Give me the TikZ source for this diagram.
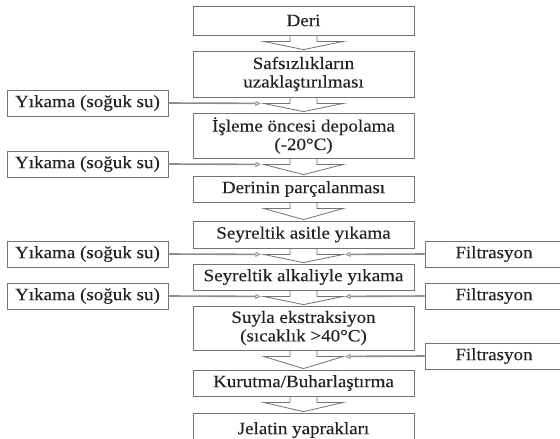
\documentclass[tikz,border=0pt]{standalone}
\usepackage{fontspec}
\setmainfont{Liberation Serif}[FakeStretch=1.1,FakeBold=0.15]
\usetikzlibrary{arrows.meta,calc}
\definecolor{boxline}{HTML}{737373}
\definecolor{txt}{HTML}{222222}
\definecolor{sideline}{HTML}{8C8C8C}
\tikzset{
  mainbox/.style={draw=boxline, line width=0.8pt, minimum width=221pt, inner sep=0pt, align=center, text=txt, font=\fontsize{17.3}{18.5}\selectfont},
  sidebox/.style={draw=boxline, line width=0.8pt, minimum height=26pt, inner sep=0pt, text=txt, font=\fontsize{17.3}{18.5}\selectfont},
  blockarr/.style={draw=boxline, line width=0.8pt, line join=miter},
  sidearr/.style={draw=sideline, line width=1.6pt, -{Triangle[open, length=5pt, width=5pt, line width=0.8pt]}},
}
\newcommand{\blockarrow}[2]{%
  \draw[blockarr] ([xshift=-13.5pt]#1.south) -- ([shift={(-13.5pt,-6pt)}]#1.south)
    -- ([shift={(-40pt,-6pt)}]#1.south) -- ([yshift=1pt]#2.north)
    -- ([shift={(40pt,-6pt)}]#1.south) -- ([shift={(13.5pt,-6pt)}]#1.south)
    -- ([xshift=13.5pt]#1.south);}
\begin{document}
\begin{tikzpicture}[x=1pt,y=1pt]
\useasboundingbox (0,0) rectangle (560,-439);
\fill[white] (0,0) rectangle (560,-439);
\clip (0,0) rectangle (560,-439);
% main column
\node[mainbox, minimum height=29pt] (b1) at (303.5,-20.5) {Deri};
\node[mainbox, minimum height=46pt] (b2) at (303.5,-74) {Safsızlıkların\\uzaklaştırılması};
\node[mainbox, minimum height=45pt] (b3) at (303.5,-135.5) {İşleme öncesi depolama\\(-20°C)};
\node[mainbox, minimum height=26pt] (b4) at (303.5,-189) {Derinin parçalanması};
\node[mainbox, minimum height=27pt] (b5) at (303.5,-234.5) {Seyreltik asitle yıkama};
\node[mainbox, minimum height=26pt] (b6) at (303.5,-277) {Seyreltik alkaliyle yıkama};
\node[mainbox, minimum height=44pt] (b7) at (303.5,-328) {Suyla ekstraksiyon\\(sıcaklık >40°C)};
\node[mainbox, minimum height=26pt] (b8) at (303.5,-383) {Kurutma/Buharlaştırma};
\node[mainbox, minimum height=34pt] (b9) at (303.5,-430) {Jelatin yaprakları};
% block arrows
\blockarrow{b1}{b2}
\blockarrow{b2}{b3}
\blockarrow{b3}{b4}
\blockarrow{b4}{b5}
\blockarrow{b5}{b6}
\blockarrow{b6}{b7}
\blockarrow{b7}{b8}
\blockarrow{b8}{b9}
% left boxes
\node[sidebox, minimum width=161pt] (l1) at (87.5,-103) {Yıkama (soğuk su)};
\node[sidebox, minimum width=161pt] (l2) at (87.5,-164) {Yıkama (soğuk su)};
\node[sidebox, minimum width=161pt] (l3) at (87.5,-254) {Yıkama (soğuk su)};
\node[sidebox, minimum width=161pt] (l4) at (87.5,-296) {Yıkama (soğuk su)};
% right boxes
\node[sidebox, minimum width=138pt] (r1) at (494,-254) {Filtrasyon};
\node[sidebox, minimum width=138pt] (r2) at (494,-296) {Filtrasyon};
\node[sidebox, minimum width=138pt] (r3) at (494,-356) {Filtrasyon};
% side arrow end points
\coordinate (tl1) at ([shift={(-43pt,-6pt)}]b2.south);
\coordinate (tl2) at ([shift={(-43pt,-6pt)}]b3.south);
\coordinate (tl3) at ([shift={(-43pt,-6pt)}]b5.south);
\coordinate (tl4) at ([shift={(-43pt,-6pt)}]b6.south);
\coordinate (tr1) at ([shift={(42pt,-6pt)}]b5.south);
\coordinate (tr2) at ([shift={(42pt,-6pt)}]b6.south);
\coordinate (tr3) at ([shift={(42pt,-6pt)}]b7.south);
\draw[sidearr] (l1.east) -- (tl1);
\draw[sidearr] (l2.east) -- (tl2);
\draw[sidearr] (l3.east) -- (tl3);
\draw[sidearr] (l4.east) -- (tl4);
\draw[sidearr] (r1.west) -- (tr1);
\draw[sidearr] (r2.west) -- (tr2);
\draw[sidearr] (r3.west) -- (tr3);
\end{tikzpicture}
\end{document}
